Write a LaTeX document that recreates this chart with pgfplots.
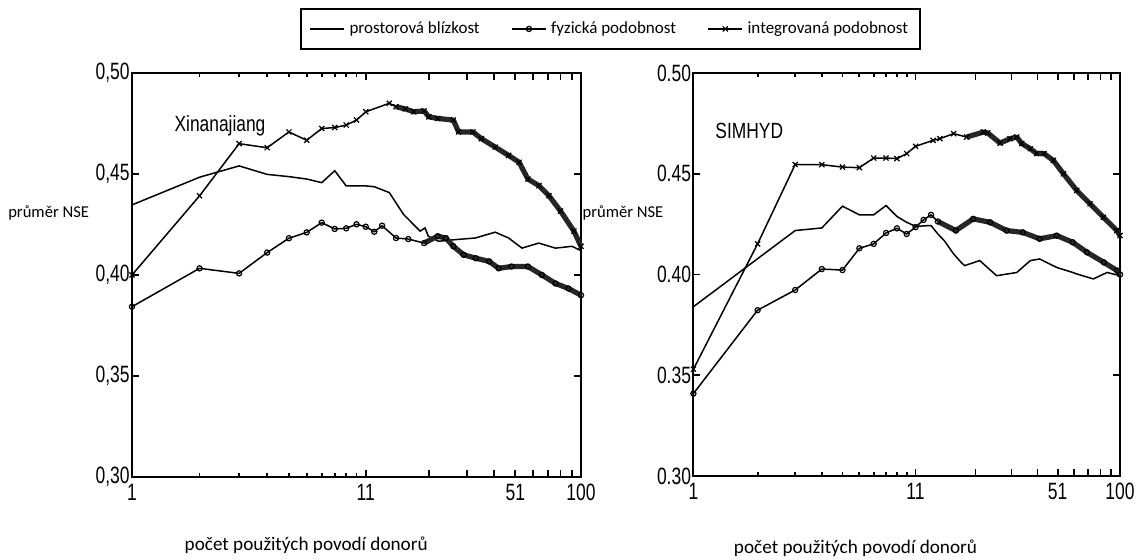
\documentclass[border=0pt]{standalone}
\usepackage{pgfplots}
\usepackage{pgfplotstable}
\pgfplotsset{compat=1.18}
\usepackage{fontspec}
\setmainfont{Carlito}
\newfontfamily\helv[FakeStretch=0.74]{Liberation Sans}
\newfontfamily\helvt[FakeStretch=0.79]{Liberation Sans}

% ---------- Xinanajiang ----------
\pgfplotstableread{
n y
1 0.4347
2 0.4484
3 0.4540
4 0.4498
5 0.4487
6 0.4475
7 0.4457
8 0.4516
9 0.4441
10 0.4441
11 0.4441
12 0.4437
14 0.4408
16.2 0.4300
19.2 0.4217
20.2 0.4233
20.9 0.4192
23.2 0.4167
27.5 0.4175
33.8 0.4183
41.5 0.4212
47.6 0.4183
54.6 0.4133
64.8 0.4158
77 0.4133
91.2 0.4142
100 0.4120
}\proxL
\pgfplotstableread{
n y
1 0.3843
2 0.4033
3 0.4008
4 0.4111
5 0.4182
6 0.4211
7 0.4259
8 0.4228
9 0.4231
10 0.4251
11 0.4239
12 0.4214
13 0.4244
15 0.4183
17 0.4178
20 0.4158
23 0.4192
25 0.4183
27 0.4142
30 0.4100
34 0.4083
39 0.4067
43 0.4033
49 0.4042
58 0.4042
67 0.4000
77 0.3958
88 0.3933
100 0.3900
}\physL
\pgfplotstableread{
n y
1 0.4000
2 0.4392
3 0.4650
4 0.4630
5 0.4708
6 0.4667
7 0.4725
8 0.4730
9 0.4742
10 0.4767
11 0.4808
14 0.4850
15 0.4833
16.5 0.4822
18 0.4808
20 0.4812
21 0.4783
23 0.4775
27 0.4767
28.5 0.4708
33 0.4708
36 0.4675
41.5 0.4633
47.6 0.4592
53 0.4558
58 0.4475
65 0.4442
72 0.4392
81 0.4317
93 0.4217
100 0.4142
}\intL

% ---------- SIMHYD ----------
\pgfplotstableread{
n y
1 0.3840
3 0.4218
4 0.4231
5 0.4339
6 0.4296
7 0.4296
8 0.4342
9 0.4288
10 0.4259
11 0.4239
13 0.4243
14 0.4201
15 0.4168
16.6 0.4102
18 0.4060
18.7 0.4044
22 0.4069
26.4 0.3994
32.8 0.4010
38 0.4069
42 0.4077
50.5 0.4035
60 0.4010
63 0.4002
75 0.3978
87 0.4010
100 0.3994
}\proxR
\pgfplotstableread{
n y
1 0.3409
2 0.3823
3 0.3923
4 0.4027
5 0.4022
6 0.4130
7 0.4152
8 0.4206
9 0.4229
10 0.4201
11 0.4235
12 0.4271
13 0.4296
14 0.4263
17 0.4218
20.5 0.4276
24.6 0.4259
29.4 0.4218
35 0.4209
42 0.4177
50.5 0.4193
60 0.4160
70 0.4110
84 0.4060
97 0.4019
100 0.4000
}\physR
\pgfplotstableread{
n y
1 0.3530
2 0.4152
3 0.4546
4 0.4545
5 0.4533
6 0.4530
7 0.4578
8 0.4578
9 0.4575
10 0.4600
11 0.4636
13.3 0.4666
14.3 0.4674
16.6 0.4699
19.1 0.4682
22.9 0.4707
24 0.4702
27.4 0.4652
30.5 0.4674
32.8 0.4682
34.6 0.4650
38 0.4624
40.7 0.4600
44 0.4600
48.7 0.4566
54.3 0.4500
62.7 0.4417
72.4 0.4351
83.6 0.4284
96.6 0.4218
100 0.4193
}\intR

\pgfplotsset{
  prox/.style={black, line width=0.75pt, no markers},
  phys/.style={black, line width=0.75pt, mark=o, mark size=1.3pt, mark options={solid, line width=0.6pt}},
  integ/.style={black, line width=0.75pt, mark=x, mark size=1.8pt, mark options={solid, line width=0.6pt}},
  dense/.style={black!85, line width=2.6pt, no markers, forget plot, line join=round},
}

\begin{document}
\begin{tikzpicture}
\useasboundingbox (0,0) rectangle (573pt,280pt);
\begin{axis}[
  scale only axis,
  xmode=log, xmin=1, xmax=100, ymin=0.30, ymax=0.50,
  xtick={1,11,51,100}, xticklabels={1,11,51,100},
  minor xtick={2,3,4,5,6,7,8,9,10},
  extra x ticks={21,31,41,61,71,81,91}, extra x tick labels={},
  ytick={0.30,0.35,0.40,0.45,0.50},
  yticklabel style={/pgf/number format/fixed, /pgf/number format/fixed zerofill, /pgf/number format/precision=2, /pgf/number format/use comma, inner xsep=1pt},
  /pgf/number format/assume math mode=true,
  tick label style={font=\helv\fontsize{11.8}{13}\selectfont, black},
  major tick length=3.5pt, minor tick length=2pt,
  every tick/.style={black, line width=0.9pt},
  axis line style={line width=1pt},
  clip=false,
  at={(66pt,41.5pt)}, anchor=south west, width=224.5pt, height=202pt,
  ylabel={průměr NSE},
  every axis y label/.style={at={(axis description cs:-0.080,0.653)}, anchor=east, font=\fontsize{8.3}{10}\selectfont},
  xlabel={počet použitých povodí donorů},
  every axis x label/.style={at={(axis description cs:0.388,-0.168)}, anchor=center, font=\fontsize{9.6}{12}\selectfont},
  legend columns=3,
  legend image post style={line width=1.2pt},
  legend style={at={(axis description cs:1.0657,1.109)}, anchor=center, draw=black, line width=1pt,
    inner ysep=4.5pt, inner xsep=4pt,
    font=\fontsize{8.5}{10}\selectfont, /tikz/every even column/.append style={column sep=13.5pt}},
]
\addplot[prox] table[x=n, y=y] {\proxL};
\addlegendentry{prostorová blízkost}
\addplot[phys] table[x=n, y=y] {\physL};
\addlegendentry{fyzická podobnost}
\addplot[integ] table[x=n, y=y] {\intL};
\addlegendentry{integrovaná podobnost}
\addplot[dense, skip coords between index={0}{15}] table[x=n, y=y] {\physL};
\addplot[dense, skip coords between index={0}{12}] table[x=n, y=y] {\intL};
\node[font=\helvt\fontsize{11}{12}\selectfont] at (rel axis cs:0.196,0.869) {Xinanajiang};
\end{axis}

\begin{axis}[
  scale only axis,
  xmode=log, xmin=1, xmax=100, ymin=0.30, ymax=0.50,
  xtick={1,11,51,100}, xticklabels={1,11,51,100},
  minor xtick={2,3,4,5,6,7,8,9,10},
  extra x ticks={21,31,41,61,71,81,91}, extra x tick labels={},
  ytick={0.30,0.35,0.40,0.45,0.50},
  yticklabel style={/pgf/number format/fixed, /pgf/number format/fixed zerofill, /pgf/number format/precision=2, inner xsep=1pt},
  /pgf/number format/assume math mode=true,
  tick label style={font=\helv\fontsize{11.8}{13}\selectfont, black},
  major tick length=3.5pt, minor tick length=2pt,
  every tick/.style={black, line width=0.9pt},
  axis line style={line width=1pt},
  clip=false,
  at={(346.7pt,42pt)}, anchor=south west, width=213.3pt, height=201.5pt,
  ylabel={průměr NSE},
  every axis y label/.style={at={(axis description cs:-0.054,0.653)}, anchor=east, font=\fontsize{8.3}{10}\selectfont},
  xlabel={počet použitých povodí donorů},
  every axis x label/.style={at={(axis description cs:0.38,-0.179)}, anchor=center, font=\fontsize{9.6}{12}\selectfont},
]
\addplot[prox] table[x=n, y=y] {\proxR};
\addplot[phys] table[x=n, y=y] {\physR};
\addplot[integ] table[x=n, y=y] {\intR};
\addplot[dense, skip coords between index={0}{13}] table[x=n, y=y] {\physR};
\addplot[dense, skip coords between index={0}{14}] table[x=n, y=y] {\intR};
\node[font=\helvt\fontsize{11}{12}\selectfont] at (rel axis cs:0.131,0.856) {SIMHYD};
\end{axis}
\end{tikzpicture}
\end{document}
